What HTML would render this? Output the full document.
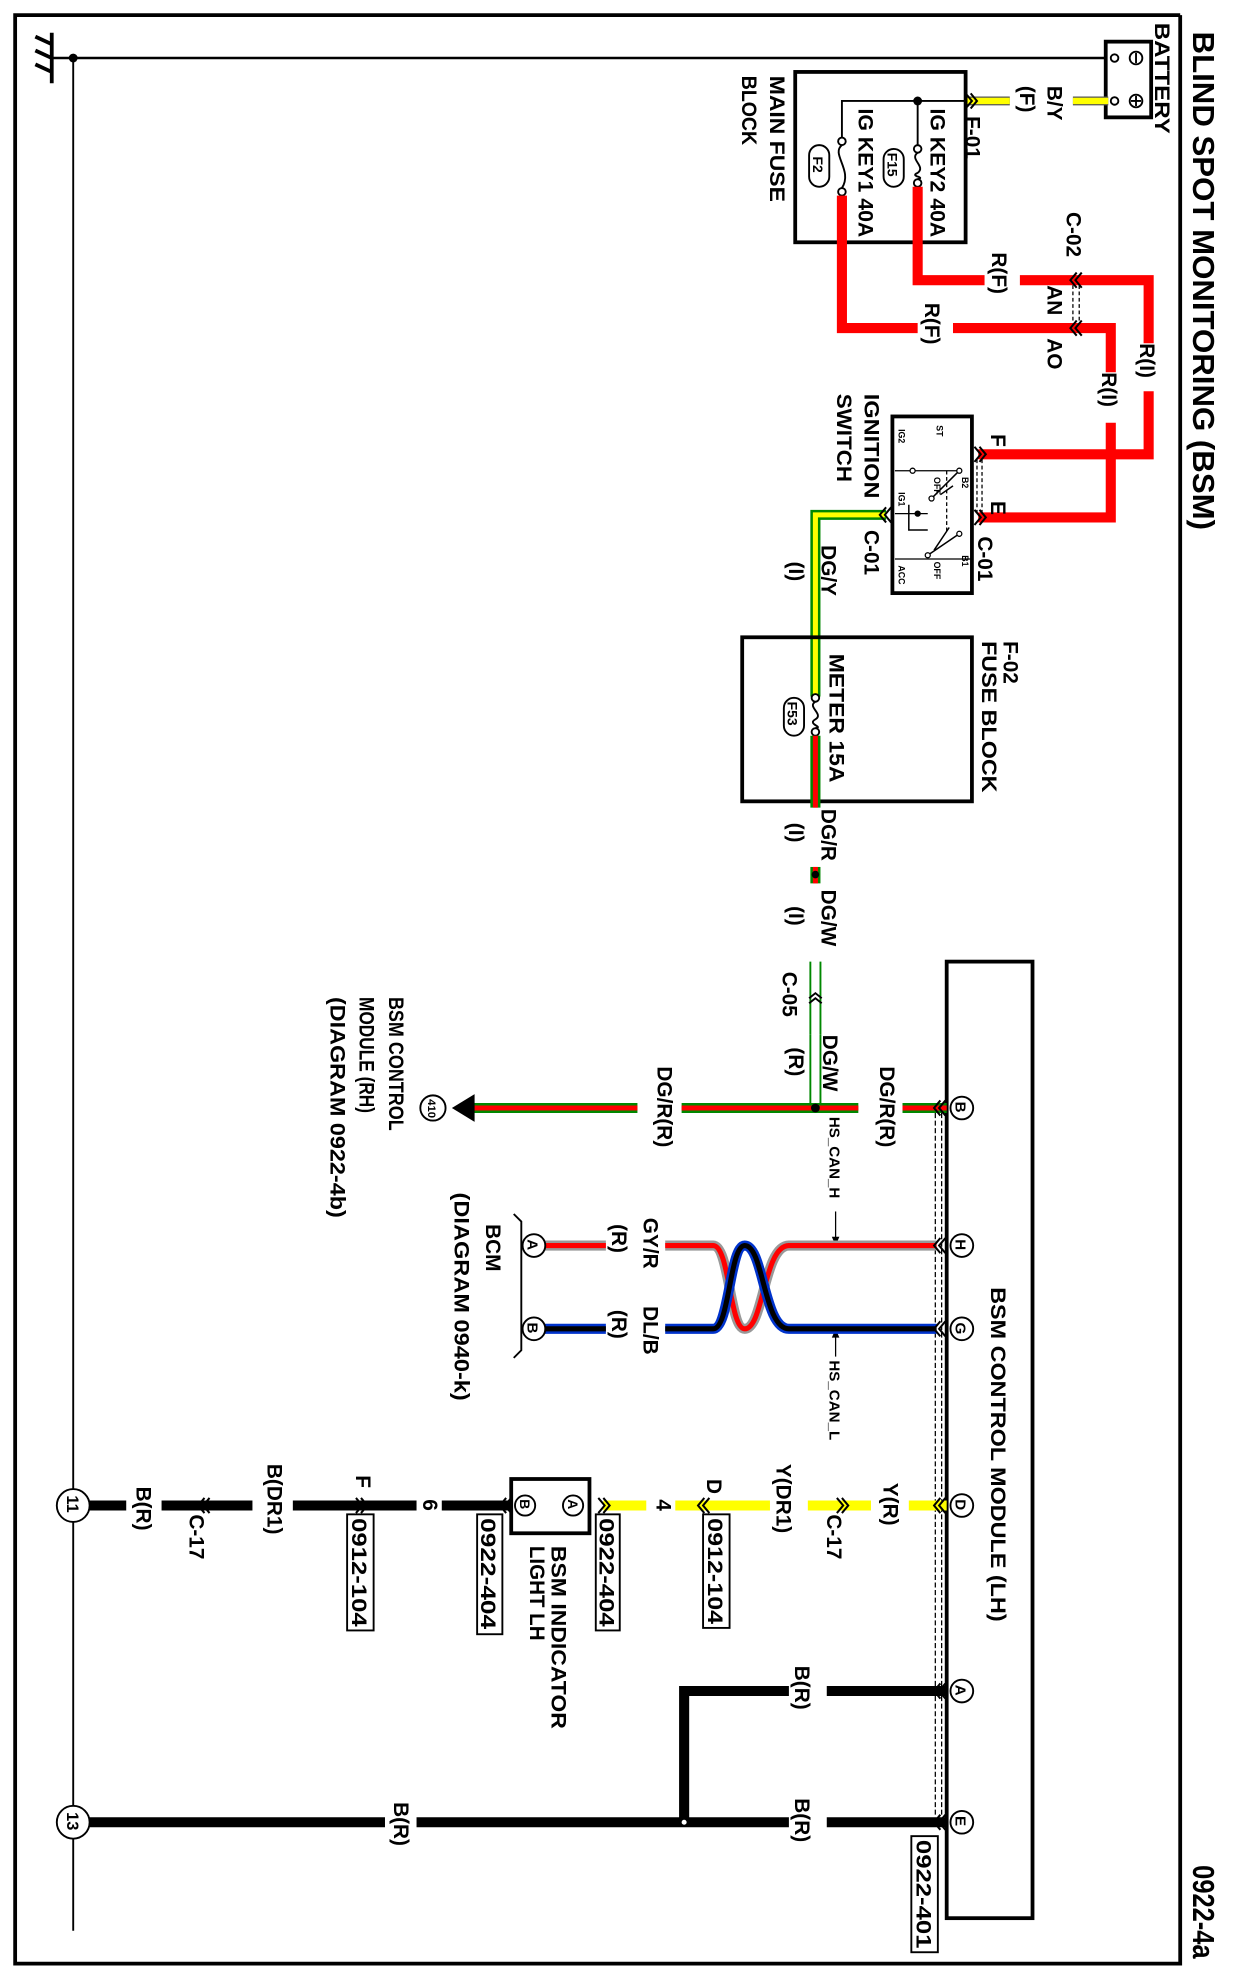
<!DOCTYPE html>
<html><head><meta charset="utf-8"><style>
html,body{margin:0;padding:0;background:#fff}
svg{display:block}
text{font-family:"Liberation Sans",Arial,sans-serif;font-weight:bold;fill:#000}
text[font-size="15"]{font-size:16.5px}
</style></head><body>
<svg width="1237" height="1980" viewBox="0 0 980 1569" preserveAspectRatio="none" xmlns="http://www.w3.org/2000/svg">
<defs>
<g id="chL"><polyline points="5,-6 0,0 5,6" fill="none" stroke="#000" stroke-width="1.6"/><polyline points="9,-6 4,0 9,6" fill="none" stroke="#000" stroke-width="1.6"/></g>
<g id="chR"><polyline points="-5,-6 0,0 -5,6" fill="none" stroke="#000" stroke-width="1.6"/><polyline points="-9,-6 -4,0 -9,6" fill="none" stroke="#000" stroke-width="1.6"/></g>
<g id="chU"><polyline points="-5,4 0,0 5,4" fill="none" stroke="#000" stroke-width="1.5"/><polyline points="-5,8 0,4 5,8" fill="none" stroke="#000" stroke-width="1.5"/></g>
</defs>
<rect width="980" height="1569" fill="#fff"/>
<polyline points="935,12 12,12 12,1556 935,1556 935,12" fill="none" stroke="#000" stroke-width="3"/>
<text transform="translate(945,25) rotate(90)" font-size="24" textLength="395" lengthAdjust="spacingAndGlyphs">BLIND SPOT MONITORING (BSM)</text>
<text transform="translate(945,1478) rotate(90)" font-size="24" textLength="74" lengthAdjust="spacingAndGlyphs">0922-4a</text>
<line x1="41" y1="26" x2="41" y2="66" stroke="#000" stroke-width="3"/>
<line x1="28" y1="29" x2="41" y2="35" stroke="#000" stroke-width="3"/>
<line x1="28" y1="40" x2="41" y2="46" stroke="#000" stroke-width="3"/>
<line x1="28" y1="51" x2="41" y2="57" stroke="#000" stroke-width="3"/>
<line x1="41" y1="46" x2="878" y2="46" stroke="#000" stroke-width="2"/>
<circle cx="58" cy="46" r="3.5" fill="#000"/>
<line x1="58" y1="46" x2="58" y2="1530" stroke="#000" stroke-width="1.5"/>
<rect x="876" y="33" width="36" height="60" fill="#fff" stroke="#000" stroke-width="3"/>
<circle cx="883" cy="46" r="3" fill="#fff" stroke="#000" stroke-width="1.5"/>
<circle cx="883" cy="80" r="3" fill="#fff" stroke="#000" stroke-width="1.5"/>
<circle cx="900" cy="46" r="5" fill="none" stroke="#000" stroke-width="1.5"/><line x1="900" y1="42" x2="900" y2="50" stroke="#000" stroke-width="1.5"/>
<circle cx="900" cy="80" r="5" fill="none" stroke="#000" stroke-width="1.5"/><line x1="896" y1="80" x2="904" y2="80" stroke="#000" stroke-width="1.5"/><line x1="900" y1="76" x2="900" y2="84" stroke="#000" stroke-width="1.5"/>
<text transform="translate(915,18) rotate(90)" font-size="15" textLength="88" lengthAdjust="spacingAndGlyphs">BATTERY</text>
<line x1="765" y1="80" x2="800" y2="80" stroke="#555" stroke-width="7"/><line x1="765" y1="80" x2="800" y2="80" stroke="#ff0" stroke-width="5"/>
<line x1="850" y1="80" x2="878" y2="80" stroke="#555" stroke-width="7"/><line x1="850" y1="80" x2="878" y2="80" stroke="#ff0" stroke-width="5"/>
<text transform="translate(830,68) rotate(90)" font-size="15">B/Y</text>
<text transform="translate(808,68) rotate(90)" font-size="15">(F)</text>
<use href="#chR" x="774" y="80"/>
<text transform="translate(765,92) rotate(90)" font-size="15">F-01</text>
<rect x="630" y="57" width="135" height="135" fill="none" stroke="#000" stroke-width="3"/>
<polyline points="667,112 667,80 765,80" fill="none" stroke="#000" stroke-width="1.5"/>
<circle cx="727" cy="80" r="3.5" fill="#000"/>
<line x1="727" y1="80" x2="727" y2="115" stroke="#000" stroke-width="1.5"/>
<circle cx="727" cy="118" r="3" fill="#fff" stroke="#000" stroke-width="1.5"/>
<circle cx="727" cy="145" r="3" fill="#fff" stroke="#000" stroke-width="1.5"/>
<path d="M727,121 C720,126 734,132 727,137 C720,140 734,140 727,142" fill="none" stroke="#000" stroke-width="1.5"/>
<circle cx="667" cy="112" r="3" fill="#fff" stroke="#000" stroke-width="1.5"/>
<circle cx="667" cy="152" r="3" fill="#fff" stroke="#000" stroke-width="1.5"/>
<path d="M667,115 C658,122 676,135 667,149" fill="none" stroke="#000" stroke-width="1.5"/>
<text transform="translate(737,86) rotate(90)" font-size="15" textLength="102" lengthAdjust="spacingAndGlyphs">IG KEY2 40A</text>
<text transform="translate(680,86) rotate(90)" font-size="15" textLength="102" lengthAdjust="spacingAndGlyphs">IG KEY1 40A</text>
<rect x="700" y="118" width="16" height="30" rx="8" fill="none" stroke="#000" stroke-width="1.5"/>
<text transform="translate(703,121) rotate(90)" font-size="11">F15</text>
<rect x="641" y="115" width="16" height="33" rx="8" fill="none" stroke="#000" stroke-width="1.5"/>
<text transform="translate(644,124) rotate(90)" font-size="11">F2</text>
<text transform="translate(610,60) rotate(90)" font-size="15" textLength="100" lengthAdjust="spacingAndGlyphs">MAIN FUSE</text>
<text transform="translate(588,60) rotate(90)" font-size="15" textLength="55" lengthAdjust="spacingAndGlyphs">BLOCK</text>
<g fill="none" stroke="#f00" stroke-width="8">
<polyline points="727,148 727,222 780,222"/>
<polyline points="808,222 910,222 910,272"/>
<polyline points="910,310 910,360 775,360"/>
<polyline points="667,155 667,260 727,260"/>
<polyline points="755,260 880,260 880,295"/>
<polyline points="880,335 880,410 775,410"/>
</g>
<text transform="translate(786,200) rotate(90)" font-size="15">R(F)</text>
<text transform="translate(733,240) rotate(90)" font-size="15">R(F)</text>
<text transform="translate(903,272) rotate(90)" font-size="15">R(I)</text>
<text transform="translate(873,295) rotate(90)" font-size="15">R(I)</text>
<use href="#chL" x="848" y="222"/><use href="#chL" x="848" y="260"/>
<line x1="850" y1="226" x2="850" y2="256" stroke="#000" stroke-width="1" stroke-dasharray="3,2"/>
<line x1="855" y1="226" x2="855" y2="256" stroke="#000" stroke-width="1" stroke-dasharray="3,2"/>
<text transform="translate(845,168) rotate(90)" font-size="15">C-02</text>
<text transform="translate(830,226) rotate(90)" font-size="15">AN</text>
<text transform="translate(830,268) rotate(90)" font-size="15">AO</text>
<rect x="707" y="330" width="63" height="140" fill="#fff" stroke="#000" stroke-width="3"/>
<line x1="709" y1="373" x2="760" y2="373" stroke="#000" stroke-width="1"/>
<line x1="709" y1="443" x2="770" y2="443" stroke="#000" stroke-width="1"/>
<line x1="709" y1="407" x2="735" y2="407" stroke="#000" stroke-width="1"/>
<path d="M760,373 L738,395 M755,385 L745,392 M760,423 L735,440 M752,418 L740,436 M720,400 L720,420 L735,420" fill="none" stroke="#000" stroke-width="1.2"/>
<line x1="750" y1="373" x2="750" y2="422" stroke="#000" stroke-width="1" stroke-dasharray="3,2"/>
<circle cx="760" cy="373" r="2" fill="#fff" stroke="#000"/><circle cx="738" cy="395" r="2" fill="#fff" stroke="#000"/>
<circle cx="723" cy="373" r="2" fill="#fff" stroke="#000"/><circle cx="727" cy="407" r="2.5" fill="#000"/>
<circle cx="760" cy="423" r="2" fill="#fff" stroke="#000"/><circle cx="735" cy="440" r="2" fill="#fff" stroke="#000"/>
<text transform="translate(762,378) rotate(90)" font-size="7">B2</text>
<text transform="translate(762,440) rotate(90)" font-size="7">B1</text>
<text transform="translate(740,378) rotate(90)" font-size="7">OFF</text>
<text transform="translate(740,445) rotate(90)" font-size="7">OFF</text>
<text transform="translate(712,340) rotate(90)" font-size="7">IG2</text>
<text transform="translate(712,390) rotate(90)" font-size="7">IG1</text>
<text transform="translate(712,448) rotate(90)" font-size="7">ACC</text>
<text transform="translate(742,337) rotate(90)" font-size="7">ST</text>
<use href="#chR" x="781" y="360"/><use href="#chR" x="781" y="410"/>
<line x1="774" y1="364" x2="774" y2="406" stroke="#000" stroke-width="1" stroke-dasharray="3,2"/>
<line x1="778" y1="364" x2="778" y2="406" stroke="#000" stroke-width="1" stroke-dasharray="3,2"/>
<text transform="translate(785,344) rotate(90)" font-size="15">F</text>
<text transform="translate(785,397) rotate(90)" font-size="15">E</text>
<text transform="translate(775,425) rotate(90)" font-size="15">C-01</text>
<text transform="translate(685,312) rotate(90)" font-size="15" textLength="83" lengthAdjust="spacingAndGlyphs">IGNITION</text>
<text transform="translate(663,312) rotate(90)" font-size="15" textLength="70" lengthAdjust="spacingAndGlyphs">SWITCH</text>
<polyline points="702,408 646,408 646,552" fill="none" stroke="#080" stroke-width="8"/>
<polyline points="702,408 646,408 646,552" fill="none" stroke="#ff0" stroke-width="4"/>
<use href="#chL" x="697" y="408"/>
<text transform="translate(685,420) rotate(90)" font-size="15">C-01</text>
<text transform="translate(651,432) rotate(90)" font-size="15">DG/Y</text>
<text transform="translate(625,445) rotate(90)" font-size="15">(I)</text>
<rect x="588" y="505" width="182" height="130" fill="none" stroke="#000" stroke-width="3"/>
<circle cx="646" cy="553" r="3" fill="#fff" stroke="#000" stroke-width="1.5"/>
<circle cx="646" cy="580" r="3" fill="#fff" stroke="#000" stroke-width="1.5"/>
<path d="M646,556 C639,560 653,566 646,570 C639,574 653,576 646,577" fill="none" stroke="#000" stroke-width="1.5"/>
<line x1="646" y1="583" x2="646" y2="640" stroke="#080" stroke-width="8"/><line x1="646" y1="583" x2="646" y2="640" stroke="#f00" stroke-width="4"/>
<rect x="621" y="553" width="16" height="30" rx="8" fill="none" stroke="#000" stroke-width="1.5"/>
<text transform="translate(624,556) rotate(90)" font-size="11">F53</text>
<text transform="translate(657,518) rotate(90)" font-size="15" textLength="102" lengthAdjust="spacingAndGlyphs">METER 15A</text>
<text transform="translate(795,508) rotate(90)" font-size="15">F-02</text>
<text transform="translate(778,508) rotate(90)" font-size="15" textLength="120" lengthAdjust="spacingAndGlyphs">FUSE BLOCK</text>
<text transform="translate(651,641) rotate(90)" font-size="15">DG/R</text>
<text transform="translate(625,652) rotate(90)" font-size="15">(I)</text>
<line x1="646" y1="687" x2="646" y2="700" stroke="#080" stroke-width="8"/><line x1="646" y1="687" x2="646" y2="700" stroke="#f00" stroke-width="4"/>
<circle cx="646" cy="693" r="3" fill="#000"/>
<text transform="translate(651,705) rotate(90)" font-size="15">DG/W</text>
<text transform="translate(625,718) rotate(90)" font-size="15">(I)</text>
<line x1="642" y1="762" x2="642" y2="820" stroke="#080" stroke-width="1.5"/>
<line x1="650" y1="762" x2="650" y2="820" stroke="#080" stroke-width="1.5"/>
<use href="#chU" x="646" y="787"/>
<text transform="translate(620,770) rotate(90)" font-size="15">C-05</text>
<text transform="translate(652,820) rotate(90)" font-size="15">DG/W</text>
<text transform="translate(625,830) rotate(90)" font-size="15">(R)</text>
<line x1="642" y1="820" x2="642" y2="878" stroke="#080" stroke-width="1.5"/>
<line x1="650" y1="820" x2="650" y2="878" stroke="#080" stroke-width="1.5"/>
<rect x="750" y="762" width="68" height="758" fill="none" stroke="#000" stroke-width="3"/>
<text transform="translate(785,1020) rotate(90)" font-size="15" textLength="265" lengthAdjust="spacingAndGlyphs">BSM CONTROL MODULE (LH)</text>
<line x1="741" y1="882" x2="741" y2="1440" stroke="#000" stroke-width="1" stroke-dasharray="4,2"/>
<line x1="746" y1="882" x2="746" y2="1440" stroke="#000" stroke-width="1" stroke-dasharray="4,2"/>
<g stroke-width="8" stroke="#080"><line x1="375" y1="878" x2="505" y2="878"/><line x1="540" y1="878" x2="680" y2="878"/><line x1="715" y1="878" x2="750" y2="878"/></g>
<g stroke-width="4" stroke="#f00"><line x1="375" y1="878" x2="505" y2="878"/><line x1="540" y1="878" x2="680" y2="878"/><line x1="715" y1="878" x2="750" y2="878"/></g>
<circle cx="646" cy="878" r="3.5" fill="#000"/>
<polygon points="358,878 376,867 376,889" fill="#000"/>
<circle cx="343" cy="878" r="10" fill="#fff" stroke="#000" stroke-width="1.5"/>
<text transform="translate(339,871) rotate(90)" font-size="9">410</text>
<text transform="translate(697,845) rotate(90)" font-size="15">DG/R(R)</text>
<text transform="translate(521,845) rotate(90)" font-size="15">DG/R(R)</text>
<text transform="translate(308,790) rotate(90)" font-size="15" textLength="106" lengthAdjust="spacingAndGlyphs">BSM CONTROL</text>
<text transform="translate(285,790) rotate(90)" font-size="15" textLength="92" lengthAdjust="spacingAndGlyphs">MODULE (RH)</text>
<text transform="translate(262,790) rotate(90)" font-size="15" textLength="175" lengthAdjust="spacingAndGlyphs">(DIAGRAM 0922-4b)</text>
<text transform="translate(657,885) rotate(90)" font-size="12">HS_CAN_H</text>
<line x1="662" y1="960" x2="662" y2="985" stroke="#000" stroke-width="1"/><polygon points="662,987 659,980 665,980" fill="#000"/>
<text transform="translate(657,1078) rotate(90)" font-size="12">HS_CAN_L</text>
<line x1="662" y1="1055" x2="662" y2="1075" stroke="#000" stroke-width="1"/><polygon points="662,1053 659,1060 665,1060" fill="#000"/>
<g fill="none">
<path d="M742,987 L625,987 C605,987 605,1053 590,1053 C578,1053 578,987 565,987 L527,987 M480,987 L430,987" stroke="#999" stroke-width="8"/>
<path d="M742,987 L625,987 C605,987 605,1053 590,1053 C578,1053 578,987 565,987 L527,987 M480,987 L430,987" stroke="#f00" stroke-width="4"/>
<path d="M742,1053 L625,1053 C605,1053 605,987 590,987 C578,987 578,1053 565,1053 L527,1053 M480,1053 L430,1053" stroke="#03c" stroke-width="8"/>
<path d="M742,1053 L625,1053 C605,1053 605,987 590,987 C578,987 578,1053 565,1053 L527,1053 M480,1053 L430,1053" stroke="#000" stroke-width="4"/>
</g>
<text transform="translate(510,965) rotate(90)" font-size="15">GY/R</text>
<text transform="translate(485,970) rotate(90)" font-size="15">(R)</text>
<text transform="translate(510,1035) rotate(90)" font-size="15">DL/B</text>
<text transform="translate(485,1038) rotate(90)" font-size="15">(R)</text>
<path d="M407,962 L413,968 L413,1070 L407,1076" fill="none" stroke="#000" stroke-width="1.5"/>
<text transform="translate(385,970) rotate(90)" font-size="15">BCM</text>
<text transform="translate(360,945) rotate(90)" font-size="15" textLength="165" lengthAdjust="spacingAndGlyphs">(DIAGRAM 0940-k)</text>
<g stroke="#ff0" stroke-width="8"><line x1="478" y1="1193" x2="512" y2="1193"/><line x1="535" y1="1193" x2="610" y2="1193"/><line x1="640" y1="1193" x2="690" y2="1193"/><line x1="720" y1="1193" x2="750" y2="1193"/></g>
<use href="#chL" x="740" y="1193"/><use href="#chR" x="672" y="1193"/><use href="#chL" x="553" y="1193"/><use href="#chR" x="483" y="1193"/>
<text transform="translate(700,1175) rotate(90)" font-size="15">Y(R)</text>
<text transform="translate(655,1200) rotate(90)" font-size="15">C-17</text>
<text transform="translate(615,1160) rotate(90)" font-size="15">Y(DR1)</text>
<text transform="translate(560,1172) rotate(90)" font-size="15">D</text>
<rect x="557" y="1200" width="21" height="90" fill="none" stroke="#000" stroke-width="1.5"/>
<text transform="translate(561,1203) rotate(90)" font-size="15" textLength="84" lengthAdjust="spacingAndGlyphs">0912-104</text>
<text transform="translate(520,1188) rotate(90)" font-size="15">4</text>
<rect x="472" y="1200" width="19" height="92" fill="none" stroke="#000" stroke-width="1.5"/>
<text transform="translate(475,1203) rotate(90)" font-size="15" textLength="86" lengthAdjust="spacingAndGlyphs">0922-404</text>
<rect x="405" y="1172" width="62" height="43" fill="#fff" stroke="#000" stroke-width="3"/>
<circle cx="454" cy="1193" r="8" fill="none" stroke="#000" stroke-width="1.5"/><text transform="translate(450,1188) rotate(90)" font-size="11">A</text>
<circle cx="416" cy="1193" r="8" fill="none" stroke="#000" stroke-width="1.5"/><text transform="translate(412,1188) rotate(90)" font-size="11">B</text>
<text transform="translate(437,1225) rotate(90)" font-size="15" textLength="145" lengthAdjust="spacingAndGlyphs">BSM INDICATOR</text>
<text transform="translate(420,1225) rotate(90)" font-size="15" textLength="75" lengthAdjust="spacingAndGlyphs">LIGHT LH</text>
<rect x="378" y="1200" width="20" height="95" fill="none" stroke="#000" stroke-width="1.5"/>
<text transform="translate(381,1203) rotate(90)" font-size="15" textLength="88" lengthAdjust="spacingAndGlyphs">0922-404</text>
<g stroke="#000" stroke-width="8"><line x1="70" y1="1193" x2="100" y2="1193"/><line x1="128" y1="1193" x2="200" y2="1193"/><line x1="232" y1="1193" x2="330" y2="1193"/><line x1="350" y1="1193" x2="405" y2="1193"/></g>
<use href="#chL" x="396" y="1193"/><use href="#chR" x="291" y="1193"/><use href="#chL" x="157" y="1193"/>
<text transform="translate(335,1188) rotate(90)" font-size="15">6</text>
<text transform="translate(282,1169) rotate(90)" font-size="15">F</text>
<rect x="275" y="1200" width="21" height="92" fill="none" stroke="#000" stroke-width="1.5"/>
<text transform="translate(279,1203) rotate(90)" font-size="15" textLength="86" lengthAdjust="spacingAndGlyphs">0912-104</text>
<text transform="translate(212,1160) rotate(90)" font-size="15">B(DR1)</text>
<text transform="translate(150,1200) rotate(90)" font-size="15">C-17</text>
<text transform="translate(108,1178) rotate(90)" font-size="15">B(R)</text>
<circle cx="58" cy="1193" r="13" fill="#fff" stroke="#000" stroke-width="1.5"/>
<text transform="translate(53,1185) rotate(90)" font-size="13">11</text>
<g fill="none" stroke="#000" stroke-width="8">
<polyline points="625,1340 542,1340 542,1444"/>
<line x1="655" y1="1340" x2="750" y2="1340"/>
<line x1="655" y1="1444" x2="750" y2="1444"/>
<line x1="330" y1="1444" x2="625" y2="1444"/>
<line x1="70" y1="1444" x2="305" y2="1444"/>
</g>
<circle cx="542" cy="1444" r="2.5" fill="#fff" stroke="#000"/>
<use href="#chL" x="740" y="1340"/><use href="#chL" x="740" y="1444"/>
<text transform="translate(630,1320) rotate(90)" font-size="15">B(R)</text>
<text transform="translate(630,1425) rotate(90)" font-size="15">B(R)</text>
<text transform="translate(312,1428) rotate(90)" font-size="15">B(R)</text>
<circle cx="58" cy="1444" r="13" fill="#fff" stroke="#000" stroke-width="1.5"/>
<text transform="translate(53,1436) rotate(90)" font-size="13">13</text>
<rect x="722" y="1455" width="21" height="92" fill="none" stroke="#000" stroke-width="1.5"/>
<text transform="translate(726,1458) rotate(90)" font-size="15" textLength="86" lengthAdjust="spacingAndGlyphs">0922-401</text>
<g fill="#fff" stroke="#000" stroke-width="1.5">
<circle cx="762" cy="878" r="9"/><circle cx="762" cy="987" r="9"/><circle cx="762" cy="1053" r="9"/>
<circle cx="762" cy="1193" r="9"/><circle cx="762" cy="1340" r="9"/><circle cx="762" cy="1444" r="9"/>
</g>
<text transform="translate(757,873) rotate(90)" font-size="12">B</text>
<text transform="translate(757,982) rotate(90)" font-size="12">H</text>
<text transform="translate(757,1048) rotate(90)" font-size="12">G</text>
<text transform="translate(757,1188) rotate(90)" font-size="12">D</text>
<text transform="translate(757,1335) rotate(90)" font-size="12">A</text>
<text transform="translate(757,1439) rotate(90)" font-size="12">E</text>
<use href="#chL" x="740" y="878"/><use href="#chL" x="740" y="987"/><use href="#chL" x="740" y="1053"/>
<circle cx="423" cy="987" r="9" fill="#fff" stroke="#000" stroke-width="1.5"/><text transform="translate(418,982) rotate(90)" font-size="12">A</text>
<circle cx="423" cy="1053" r="9" fill="#fff" stroke="#000" stroke-width="1.5"/><text transform="translate(418,1048) rotate(90)" font-size="12">B</text>
</svg>
</body></html>
